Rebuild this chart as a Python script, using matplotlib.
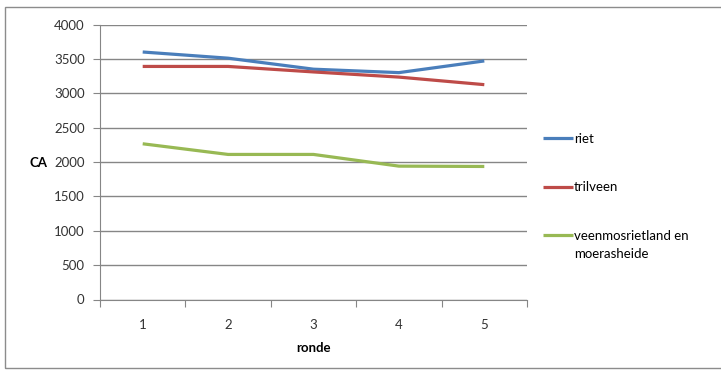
import numpy as np
import matplotlib.pyplot as plt
from matplotlib.patches import Rectangle

# data
rondes = [1, 2, 3, 4, 5]
riet = [3600, 3510, 3350, 3300, 3470]
trilveen = [3390, 3390, 3310, 3235, 3125]
veenmos = [2265, 2110, 2110, 1940, 1935]
y_ticks = [0, 500, 1000, 1500, 2000, 2500, 3000, 3500, 4000]

plt.rcParams['font.family'] = ['Lato', 'DejaVu Sans']

fig = plt.figure(figsize=(7.21, 3.70), dpi=100)
ax = fig.add_axes([100 / 721, 1 - 299.5 / 370, 427 / 721, 275 / 370])

gray = '#868686'
ax.plot(rondes, riet, color='#4A7EBB', lw=2.3, label='riet', solid_capstyle='butt')
ax.plot(rondes, trilveen, color='#BE4B48', lw=2.3, label='trilveen', solid_capstyle='butt')
ax.plot(rondes, veenmos, color='#98B954', lw=2.3,
        label='veenmosrietland en', solid_capstyle='butt')

ax.set_xlim(0.5, 5.5)
ax.set_ylim(0, 4000)
ax.set_yticks(y_ticks)
ax.set_yticklabels([str(v) for v in y_ticks], fontsize=9.5, color='#333333')
ax.yaxis.grid(True, color=gray, lw=1)
ax.set_axisbelow(True)

# category ticks between points, labels centred on points
ax.set_xticks(np.arange(0.5, 6, 1))
ax.set_xticklabels([])
ax.set_xticks(rondes, minor=True)
ax.set_xticklabels([str(r) for r in rondes], minor=True, fontsize=9.5, color='#333333')
ax.tick_params(axis='x', which='major', length=5, color=gray, direction='out')
ax.tick_params(axis='x', which='minor', length=0, pad=14)
ax.tick_params(axis='y', length=5, color=gray, pad=6)

for s in ['top', 'right']:
    ax.spines[s].set_visible(False)
for s in ['left', 'bottom']:
    ax.spines[s].set_color(gray)

ax.set_xlabel('ronde', fontsize=9.5, fontweight='bold', labelpad=8)
fig.text(38 / 721, 1 - 163 / 370, 'CA', fontsize=9.5, fontweight='bold',
         ha='center', va='center')

leg = ax.legend(loc='upper left', bbox_to_anchor=(543 / 721, 1 - 133 / 370),
                bbox_transform=fig.transFigure, frameon=False, fontsize=9.5,
                handlelength=2.3, handletextpad=0.05, labelspacing=2.75,
                borderaxespad=0, borderpad=0)
# second line of the last legend label, Excel-style under the first line
ax.annotate('moerasheide', xy=(0, 0), xycoords=leg.get_texts()[2],
            xytext=(0, -6), textcoords='offset pixels', ha='left', va='top',
            fontsize=9.5, zorder=10, annotation_clip=False)

fig.add_artist(Rectangle((5 / 721, 2 / 370), 1.2, 1 - 9 / 370,
                         transform=fig.transFigure, fill=False,
                         edgecolor='#8c8c8c', lw=1))

fig.savefig('out.png', dpi=100)
